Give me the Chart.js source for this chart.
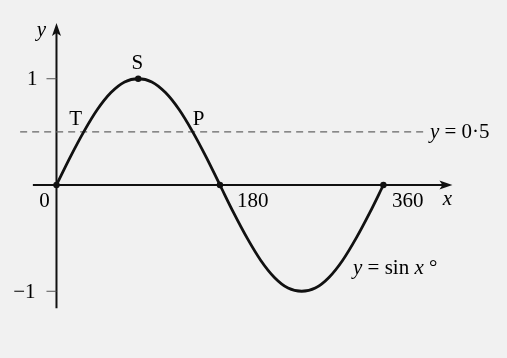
<!DOCTYPE html>
<html>
<head>
<meta charset="utf-8">
<script src="https://cdn.jsdelivr.net/npm/chart.js@4/dist/chart.umd.min.js"></script>
<style>
html,body{margin:0;padding:0;background:#f1f1f1;}
#wrap{width:507px;height:358px;}
</style>
</head>
<body>
<div id="wrap"><canvas id="c" width="507" height="358"></canvas></div>
<script>
// Curve y = sin x° (every 15°)
const curveX = [0,15,30,45,60,75,90,105,120,135,150,165,180,195,210,225,240,255,270,285,300,315,330,345,360];
const curveY = [0,0.26,0.5,0.71,0.87,0.97,1,0.97,0.87,0.71,0.5,0.26,0,-0.26,-0.5,-0.71,-0.87,-0.97,-1,-0.97,-0.87,-0.71,-0.5,-0.26,0];
// Marked points
const dotX = [0,90,180,360];
const dotY = [0,1,0,0];
// Dashed line y = 0.5
const dashX = [-40,409];
const dashY = [0.5,0.5];
// Axis extents
const xAxisRange = [-26,436];
const yAxisRange = [-1.16,1.525];
// Tick labels
const xTickValues = [0,180,360];
const xTickLabels = ['0','180','360'];
const yTickValues = [1,-1];
const yTickLabels = ['1','\u22121'];
// Point labels
const pointNames = ['T','S','P'];
const pointX = [30,90,150];
const pointY = [0.5,1,0.5];

const FONT = '"Liberation Serif", "Times New Roman", serif';

const drawPlugin = {
  id: 'mathAxes',
  beforeDraw(chart){
    const ctx = chart.ctx;
    ctx.save();
    ctx.fillStyle = '#f1f1f1';
    ctx.fillRect(0,0,chart.width,chart.height);
    ctx.restore();
  },
  beforeDatasetsDraw(chart){
    const ctx = chart.ctx, xs = chart.scales.x, ys = chart.scales.y;
    const X = v => xs.getPixelForValue(v), Y = v => ys.getPixelForValue(v);
    ctx.save();
    ctx.strokeStyle = '#111';
    ctx.fillStyle = '#111';
    ctx.lineWidth = 2;
    // x axis
    const x0 = X(xAxisRange[0]), x1 = X(xAxisRange[1]), yz = Y(0);
    ctx.beginPath(); ctx.moveTo(x0,yz); ctx.lineTo(x1-6,yz); ctx.stroke();
    ctx.beginPath(); ctx.moveTo(x1,yz); ctx.lineTo(x1-13,yz-4.5); ctx.lineTo(x1-10,yz); ctx.lineTo(x1-13,yz+4.5); ctx.closePath(); ctx.fill();
    // y axis
    const y0 = Y(yAxisRange[0]), y1 = Y(yAxisRange[1]), xz = X(0);
    ctx.beginPath(); ctx.moveTo(xz,y0); ctx.lineTo(xz,y1+6); ctx.stroke();
    ctx.beginPath(); ctx.moveTo(xz,y1); ctx.lineTo(xz-4.5,y1+13); ctx.lineTo(xz,y1+10); ctx.lineTo(xz+4.5,y1+13); ctx.closePath(); ctx.fill();
    // y ticks
    ctx.lineWidth = 1;
    ctx.strokeStyle = '#555';
    yTickValues.forEach(v => {
      ctx.beginPath(); ctx.moveTo(xz-10,Y(v)); ctx.lineTo(xz,Y(v)); ctx.stroke();
    });
    ctx.restore();
  },
  afterDatasetsDraw(chart){
    const ctx = chart.ctx, xs = chart.scales.x, ys = chart.scales.y;
    const X = v => xs.getPixelForValue(v), Y = v => ys.getPixelForValue(v);
    ctx.save();
    ctx.fillStyle = '#000';
    ctx.textBaseline = 'middle';
    const rom = '21px ' + FONT, ita = 'italic 21px ' + FONT;
    // y tick labels
    ctx.font = rom; ctx.textAlign = 'right';
    yTickValues.forEach((v,i) => ctx.fillText(yTickLabels[i], X(0)-(v > 0 ? 19 : 21), Y(v)+1));
    // x tick labels
    const xOff = [-12, 17, 8.5];
    xTickValues.forEach((v,i) => {
      if (v === 0) { ctx.textAlign = 'center'; ctx.fillText(xTickLabels[i], X(v)+xOff[i], Y(0)+16); }
      else { ctx.textAlign = 'left'; ctx.fillText(xTickLabels[i], X(v)+xOff[i], Y(0)+16); }
    });
    // axis names
    ctx.font = ita; ctx.textAlign = 'center';
    ctx.fillText('y', X(0)-15, Y(yAxisRange[1])+8);
    ctx.fillText('x', X(xAxisRange[1])-5, Y(0)+14);
    // point labels
    ctx.font = rom;
    const offs = [[-8,-12],[-1,-15],[6,-12]];
    pointNames.forEach((n,i) => ctx.fillText(n, X(pointX[i])+offs[i][0], Y(pointY[i])+offs[i][1]));
    // mixed italic labels
    function spans(parts, x, y){
      ctx.textAlign = 'left';
      let cx = x;
      parts.forEach(p => { ctx.font = (p[1] ? ita : rom); ctx.fillText(p[0], cx, y); cx += ctx.measureText(p[0]).width; });
    }
    spans([['y',1],[' = 0\u00B75',0]], X(dashX[1])+2, Y(0.5)+1);
    spans([['y',1],[' = sin ',0],['x',1],[' \u00B0',0]], 353, 268);
    ctx.restore();
  }
};

new Chart(document.getElementById('c'), {
  type: 'line',
  data: {
    datasets: [
      {
        data: curveX.map((x,i) => ({x, y: curveY[i]})),
        borderColor: '#111', borderWidth: 2.8, pointRadius: 0,
        cubicInterpolationMode: 'monotone', fill: false
      },
      {
        data: dashX.map((x,i) => ({x, y: dashY[i]})),
        borderColor: '#666', borderWidth: 1.2, borderDash: [7,5], pointRadius: 0, fill: false
      },
      {
        data: dotX.map((x,i) => ({x, y: dotY[i]})),
        showLine: false, pointRadius: 3.2, pointBackgroundColor: '#111', pointBorderWidth: 0, borderColor: '#111'
      }
    ]
  },
  options: {
    responsive: false,
    animation: false,
    devicePixelRatio: 1,
    layout: { padding: 0, autoPadding: false },
    plugins: { legend: { display: false }, tooltip: { enabled: false } },
    scales: {
      x: { type: 'linear', display: false, min: -62.2, max: 496.1 },
      y: { type: 'linear', display: false, min: -1.628, max: 1.741 }
    }
  },
  plugins: [drawPlugin]
});
</script>
</body>
</html>
